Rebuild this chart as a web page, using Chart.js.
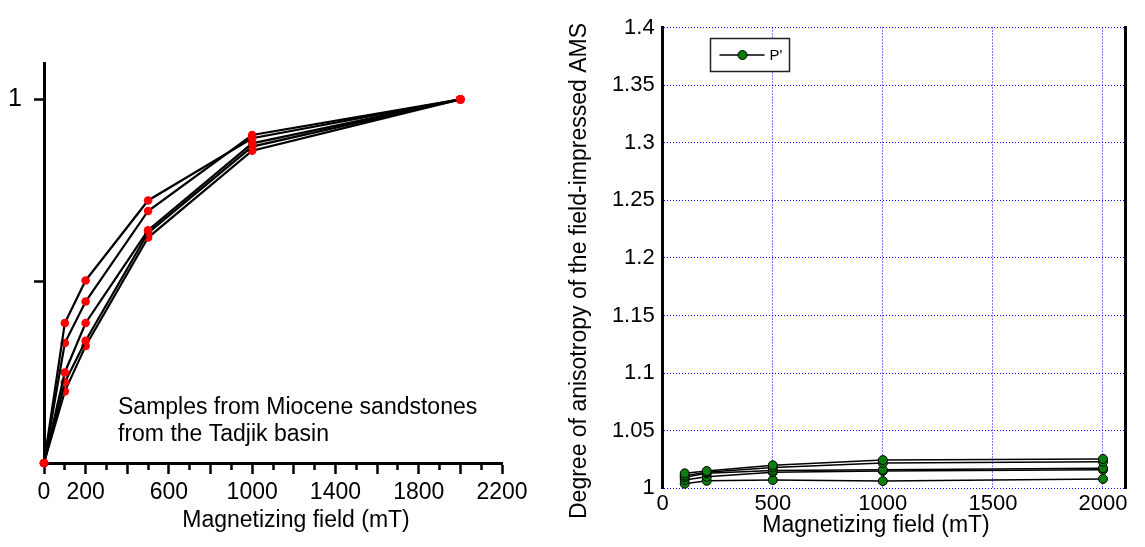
<!DOCTYPE html>
<html><head><meta charset="utf-8">
<script src="https://cdn.jsdelivr.net/npm/chart.js@4.4.1/dist/chart.umd.min.js"></script>
<style>
body{margin:0;background:#fff;width:1145px;height:547px;overflow:hidden;position:relative}
canvas{position:absolute;top:0}
#left{left:0}
#right{left:545px}
</style></head><body>
<canvas id="left" width="545" height="547"></canvas>
<canvas id="right" width="600" height="547"></canvas>
<script>
// --- left panel: normalised acquisition curves (5 samples) ---
const fieldL = [0, 100, 200, 500, 1000, 2000];
const normA = [0, 0.385, 0.502, 0.722, 0.893, 1];
const normB = [0, 0.330, 0.444, 0.693, 0.902, 1];
const normC = [0, 0.249, 0.385, 0.640, 0.879, 1];
const normD = [0, 0.222, 0.336, 0.633, 0.870, 1];
const normE = [0, 0.197, 0.322, 0.620, 0.859, 1];
const xLabelsL = [0, 200, 600, 1000, 1400, 1800, 2200];
const yTicksL = [0.5, 1];
const yLabelsL = [1];

// --- right panel: P' vs field ---
const fieldR = [100, 200, 500, 1000, 2000];
const pA = [1.0130, 1.0150, 1.0200, 1.0245, 1.0255];
const pB = [1.0110, 1.0140, 1.0180, 1.0220, 1.0230];
const pC = [1.0095, 1.0130, 1.0155, 1.0160, 1.0175];
const pD = [1.0072, 1.0100, 1.0140, 1.0150, 1.0160];
const pE = [1.0040, 1.0065, 1.0072, 1.0063, 1.0081];
const xTicksR = [0, 500, 1000, 1500, 2000];

const FONT = '"Liberation Sans", Arial, Helvetica, sans-serif';
Chart.defaults.font.family = FONT;
Chart.defaults.color = '#000';

const pts = (xs, ys) => xs.map((x, i) => ({x, y: ys[i]}));
// fixed axis boxes so the plot area lands where the original has it
const fixBox = (w, h) => s => {
  if (w != null) s.width = w;
  if (h != null) s.height = h;
  s.paddingLeft = s.paddingRight = s.paddingTop = s.paddingBottom = 0;
};

// titles and notes drawn as text on the canvas
const notes = {
  id: 'notes',
  afterDraw(chart, args, opts) {
    const ctx = chart.ctx;
    (opts.items || []).forEach(t => {
      ctx.save();
      ctx.font = t.font || ('23px ' + FONT);
      ctx.fillStyle = '#000';
      ctx.textAlign = t.align || 'left';
      ctx.textBaseline = 'alphabetic';
      ctx.translate(t.x, t.y);
      if (t.rot) ctx.rotate(t.rot);
      ctx.fillText(t.text, 0, 0);
      ctx.restore();
    });
  }
};

// small legend box inside the right plot
const boxLegend = {
  id: 'boxLegend',
  afterDraw(chart, args, o) {
    if (!o.display) return;
    const ctx = chart.ctx, ds = chart.data.datasets[0];
    ctx.save();
    ctx.strokeStyle = '#222'; ctx.lineWidth = 1.5;
    ctx.fillStyle = '#fff';
    ctx.fillRect(o.x, o.y, o.w, o.h);
    ctx.strokeRect(o.x, o.y, o.w, o.h);
    const cy = o.y + o.h / 2;
    ctx.strokeStyle = ds.borderColor; ctx.lineWidth = ds.borderWidth;
    ctx.beginPath(); ctx.moveTo(o.x + 9, cy); ctx.lineTo(o.x + 54, cy); ctx.stroke();
    ctx.beginPath(); ctx.arc(o.x + 32, cy, ds.pointRadius, 0, Math.PI * 2);
    ctx.fillStyle = ds.pointBackgroundColor; ctx.fill();
    ctx.strokeStyle = ds.pointBorderColor; ctx.lineWidth = 1; ctx.stroke();
    ctx.fillStyle = '#000'; ctx.font = '15px ' + FONT; ctx.textBaseline = 'middle';
    ctx.fillText(ds.label, o.x + 59, cy + 1);
    ctx.restore();
  }
};

const leftSets = [normA, normB, normC, normD, normE].map(v => ({
  data: pts(fieldL, v),
  borderColor: '#000', borderWidth: 2.2,
  pointRadius: 4.3, pointBackgroundColor: '#ff0000', pointBorderWidth: 0,
  clip: false
}));

new Chart(document.getElementById('left'), {
  type: 'line',
  data: {datasets: leftSets},
  plugins: [notes],
  options: {
    responsive: false, animation: false, devicePixelRatio: 1,
    layout: {padding: {top: 63, right: 43, left: 0, bottom: 0}},
    plugins: {
      legend: {display: false}, tooltip: {enabled: false},
      notes: {items: [
        {text: 'Magnetizing field (mT)', x: 296, y: 527, align: 'center'},
        {text: 'Samples from Miocene sandstones', x: 118, y: 414},
        {text: 'from the Tadjik basin', x: 118, y: 441}
      ]}
    },
    scales: {
      x: {
        type: 'linear', min: 0, max: 2200,
        afterFit: fixBox(null, 84),
        ticks: {stepSize: 100, autoSkip: false, maxRotation: 0, padding: 5, font: {size: 23},
          callback: v => xLabelsL.includes(v) ? String(v) : ''},
        grid: {drawOnChartArea: false, tickLength: 11, tickWidth: 2.5, tickColor: '#000',
          tickBorderDash: c => (c.tick && c.tick.value % 200) ? [5, 40] : []},
        border: {color: '#000', width: 3}
      },
      y: {
        type: 'linear', min: 0, max: 1.1,
        afterFit: fixBox(44, null),
        afterBuildTicks: s => { s.ticks = yTicksL.map(v => ({value: v})); },
        ticks: {padding: 12, font: {size: 25},
          callback: v => yLabelsL.includes(v) ? String(v) : ''},
        grid: {drawOnChartArea: false, tickLength: 10, tickWidth: 2.5, tickColor: '#000'},
        border: {color: '#000', width: 3}
      }
    }
  }
});

const rightSets = [pA, pB, pC, pD, pE].map((v, i) => ({
  label: i === 0 ? "P'" : '',
  data: pts(fieldR, v),
  borderColor: '#000', borderWidth: 1.5,
  pointRadius: 4.5, pointBackgroundColor: '#0a7d0a', pointBorderColor: '#000', pointBorderWidth: 1,
  clip: false
}));

const blueGrid = {color: '#0000ff', lineWidth: 1, drawTicks: false};

new Chart(document.getElementById('right'), {
  type: 'line',
  data: {datasets: rightSets},
  plugins: [notes, boxLegend],
  options: {
    responsive: false, animation: false, devicePixelRatio: 1,
    layout: {padding: {top: 27.5, right: 20, left: 0, bottom: 0}},
    plugins: {
      legend: {display: false}, tooltip: {enabled: false},
      boxLegend: {display: true, x: 165.5, y: 38.5, w: 79, h: 33},
      notes: {items: [
        {text: 'Magnetizing field (mT)', x: 331, y: 532, align: 'center'},
        {text: 'Degree of anisotropy of the field-impressed AMS', x: 41, y: 271, align: 'center', rot: -Math.PI / 2}
      ]}
    },
    scales: {
      x: {
        type: 'linear', min: 0, max: 2100,
        afterFit: fixBox(null, 58.7),
        afterBuildTicks: s => { s.ticks = xTicksR.map(v => ({value: v})); },
        ticks: {autoSkip: false, maxRotation: 0, padding: 2, font: {size: 22},
          callback: v => String(v)},
        grid: blueGrid,
        border: {display: false, dash: [1, 2]}
      },
      y: {
        type: 'linear', min: 1, max: 1.4,
        afterFit: fixBox(117.7, null),
        ticks: {stepSize: 0.05, padding: 8, font: {size: 22},
          callback: v => String(+v.toFixed(2))},
        grid: blueGrid,
        border: {color: '#000', width: 3, dash: [1, 2]}
      },
      y2: {
        type: 'linear', position: 'right', min: 1, max: 1.4,
        afterFit: fixBox(0, null),
        ticks: {display: false},
        grid: {display: false, drawTicks: false},
        border: {color: '#000', width: 3}
      }
    }
  }
});
</script>
</body></html>
